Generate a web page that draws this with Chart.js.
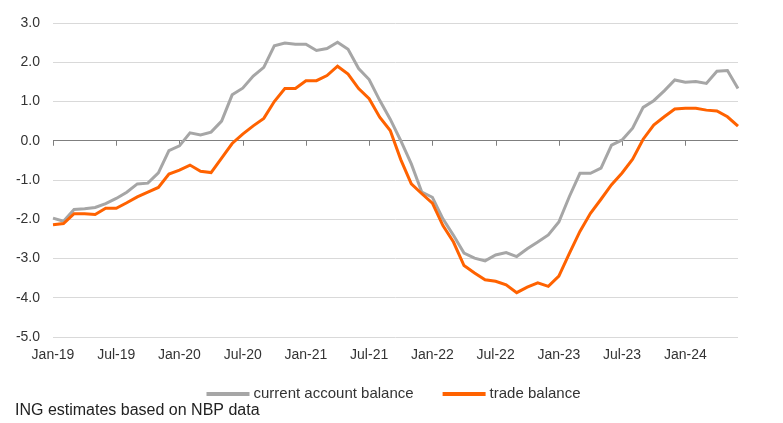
<!DOCTYPE html>
<html>
<head>
<meta charset="utf-8">
<script src="https://cdn.jsdelivr.net/npm/chart.js@4/dist/chart.umd.min.js"></script>
<style>
  html, body { margin: 0; padding: 0; background: #ffffff; }
  #wrap { width: 783px; height: 423px; position: relative; }
</style>
</head>
<body>
<div id="wrap"><canvas id="c" width="783" height="423"></canvas></div>
<script>
const months = [
  "Jan-19","Feb-19","Mar-19","Apr-19","May-19","Jun-19","Jul-19","Aug-19","Sep-19","Oct-19","Nov-19","Dec-19",
  "Jan-20","Feb-20","Mar-20","Apr-20","May-20","Jun-20","Jul-20","Aug-20","Sep-20","Oct-20","Nov-20","Dec-20",
  "Jan-21","Feb-21","Mar-21","Apr-21","May-21","Jun-21","Jul-21","Aug-21","Sep-21","Oct-21","Nov-21","Dec-21",
  "Jan-22","Feb-22","Mar-22","Apr-22","May-22","Jun-22","Jul-22","Aug-22","Sep-22","Oct-22","Nov-22","Dec-22",
  "Jan-23","Feb-23","Mar-23","Apr-23","May-23","Jun-23","Jul-23","Aug-23","Sep-23","Oct-23","Nov-23","Dec-23",
  "Jan-24","Feb-24","Mar-24","Apr-24","May-24","Jun-24"
];

const currentAccount = [
  -1.97, -2.05, -1.75, -1.73, -1.70, -1.60, -1.47, -1.31, -1.10, -1.08, -0.82, -0.25,
  -0.13,  0.20,  0.15,  0.22,  0.50,  1.17,  1.34,  1.65,  1.87,  2.42,  2.49,  2.46,
   2.46,  2.30,  2.35,  2.51,  2.33,  1.84,  1.56,  1.03,  0.55,  0.00, -0.59, -1.31,
  -1.44, -1.99, -2.41, -2.86, -2.99, -3.06, -2.91, -2.85, -2.95, -2.75, -2.58, -2.40,
  -2.07, -1.42, -0.83, -0.83, -0.70, -0.11,  0.02,  0.32,  0.85,  1.02,  1.27,  1.55,
   1.49,  1.51,  1.46,  1.77,  1.79,  1.33
];

const tradeBalance = [
  -2.14, -2.11, -1.86, -1.86, -1.88, -1.72, -1.72, -1.58, -1.43, -1.31, -1.19, -0.85,
  -0.75, -0.62, -0.78, -0.81, -0.44, -0.07,  0.17,  0.38,  0.57,  1.00,  1.33,  1.33,
   1.53,  1.53,  1.66,  1.90,  1.70,  1.33,  1.07,  0.60,  0.26, -0.48, -1.10, -1.35,
  -1.59, -2.16, -2.58, -3.18, -3.37, -3.54, -3.58, -3.67, -3.87, -3.73, -3.62, -3.71,
  -3.45, -2.87, -2.31, -1.85, -1.49, -1.12, -0.82, -0.47,  0.04,  0.40,  0.61,  0.81,
   0.83,  0.83,  0.78,  0.76,  0.61,  0.37
];

const seriesNames = ["current account balance", "trade balance"];
const seriesColors = ["#A6A6A6", "#FF6200"];
const sourceNote = "ING estimates based on NBP data";
const yMin = -5, yMax = 3, yStep = 1;
const labelEvery = 6;

const FONT = "'Liberation Sans', Arial, sans-serif";
const TEXT = "#333333";

const zeroTicks = {
  id: 'zeroTicks',
  beforeDatasetsDraw(chart) {
    const x = chart.scales.x, y = chart.scales.y;
    const y0 = y.getPixelForValue(0);
    const ctx = chart.ctx;
    ctx.save();
    ctx.strokeStyle = '#7F7F7F';
    ctx.lineWidth = 1;
    ctx.beginPath();
    for (let i = 0; i < months.length; i += labelEvery) {
      const px = Math.round(x.getPixelForValue(i)) + 0.5;
      ctx.moveTo(px, y0);
      ctx.lineTo(px, y0 + 5);
    }
    ctx.stroke();
    ctx.restore();
  }
};

const legendAndNote = {
  id: 'legendAndNote',
  afterDraw(chart) {
    const ctx = chart.ctx;
    ctx.save();
    ctx.font = "15px " + FONT;
    ctx.textBaseline = 'middle';
    const lineLen = 43, gapText = 4, gapItem = 29;
    const items = chart.data.datasets.map(d => ({ label: d.label, color: d.borderColor, w: ctx.measureText(d.label).width }));
    let total = 0;
    items.forEach((it, i) => { total += lineLen + gapText + it.w + (i < items.length - 1 ? gapItem : 0); });
    let x = (chart.width - total) / 2 + 2;
    const ly = 394;
    items.forEach(it => {
      ctx.strokeStyle = it.color;
      ctx.lineWidth = 4;
      ctx.beginPath();
      ctx.moveTo(x, ly);
      ctx.lineTo(x + lineLen, ly);
      ctx.stroke();
      x += lineLen + gapText;
      ctx.fillStyle = TEXT;
      ctx.textAlign = 'left';
      ctx.fillText(it.label, x, ly);
      x += it.w + gapItem;
    });
    ctx.font = "16px " + FONT;
    ctx.fillStyle = "#222222";
    ctx.fillText(sourceNote, 15, 411);
    ctx.restore();
  }
};

new Chart(document.getElementById('c'), {
  type: 'line',
  data: {
    labels: months,
    datasets: [
      { label: seriesNames[0], data: currentAccount, borderColor: seriesColors[0], backgroundColor: seriesColors[0],
        borderWidth: 3, pointRadius: 0, tension: 0, fill: false, order: 1 },
      { label: seriesNames[1], data: tradeBalance, borderColor: seriesColors[1], backgroundColor: seriesColors[1],
        borderWidth: 3, pointRadius: 0, tension: 0, fill: false, order: 0 }
    ]
  },
  options: {
    responsive: false,
    animation: false,
    devicePixelRatio: 1,
    layout: { padding: { left: 0, right: 45, top: 23, bottom: 59 } },
    plugins: {
      legend: { display: false },
      tooltip: { enabled: false },
      title: { display: false }
    },
    scales: {
      x: {
        type: 'category',
        offset: false,
        grid: { display: false, drawTicks: false },
        border: { display: false },
        ticks: {
          autoSkip: false,
          maxRotation: 0,
          minRotation: 0,
          padding: 10,
          color: TEXT,
          font: { family: FONT, size: 14 },
          callback: function(value, index) { return index % labelEvery === 0 ? months[index] : ''; }
        },
        afterFit: function(s) { s.height = 27; }
      },
      y: {
        min: yMin,
        max: yMax,
        grid: {
          drawTicks: false,
          lineWidth: 1,
          color: ctx => (ctx.tick && ctx.tick.value === 0) ? '#7F7F7F' : '#D9D9D9'
        },
        border: { display: false },
        ticks: {
          stepSize: yStep,
          padding: 13,
          color: TEXT,
          font: { family: FONT, size: 14 },
          callback: v => Number(v).toFixed(1)
        },
        afterFit: function(s) { s.width = 53; }
      }
    }
  },
  plugins: [zeroTicks, legendAndNote]
});
</script>
</body>
</html>
